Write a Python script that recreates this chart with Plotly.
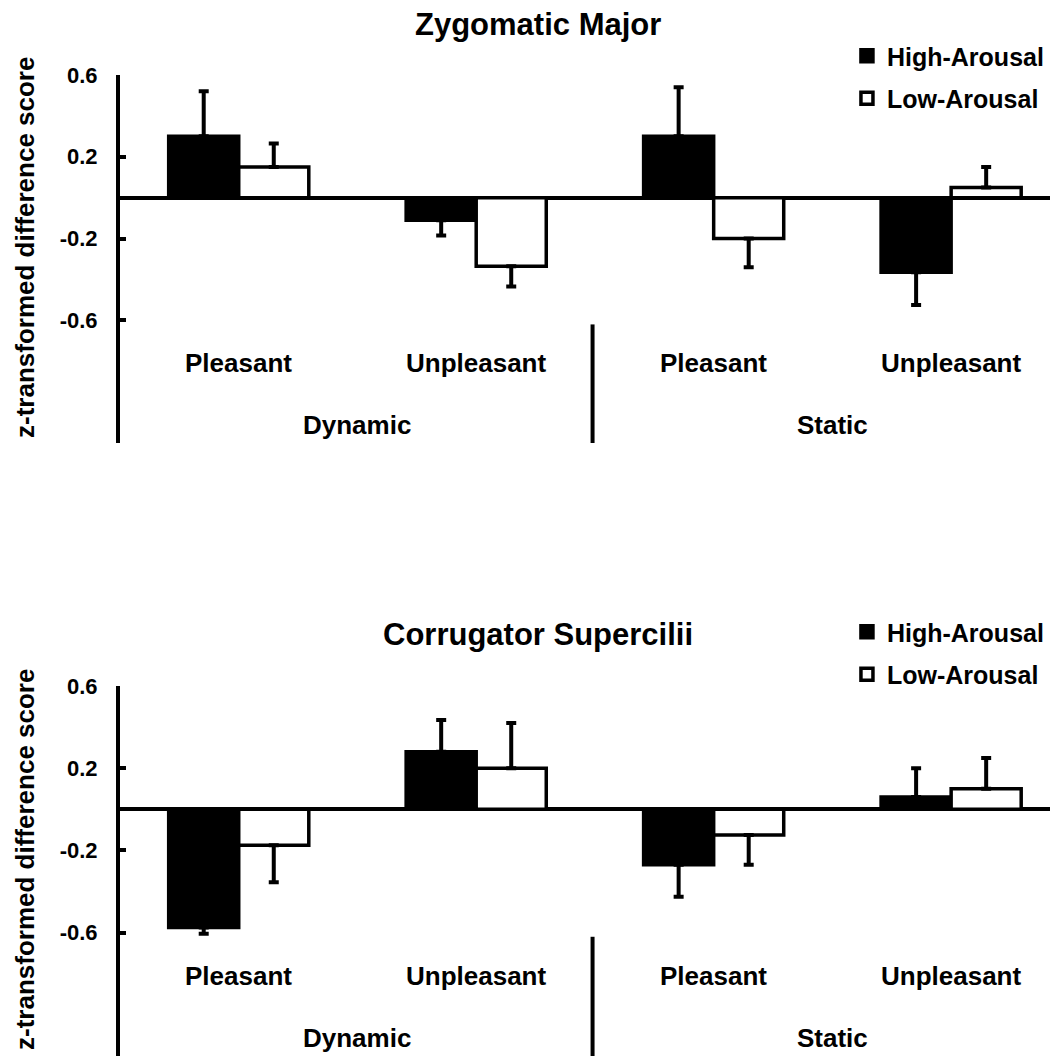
import plotly.graph_objects as go

# ---- data ----
conditions = ["Pleasant", "Unpleasant", "Pleasant", "Unpleasant"]
condition_x = [0, 1, 2, 3]
motion_groups = ["Dynamic", "Static"]
motion_x = [0.5, 2.5]
series_names = ["High-Arousal", "Low-Arousal"]
y_ticks = [0.6, 0.2, -0.2, -0.6]
y_tick_labels = ["0.6", "0.2", "-0.2", "-0.6"]
panel_titles = ["Zygomatic Major", "Corrugator Supercilii"]
y_title = "z-transformed difference score"

zyg_high = [0.30, -0.11, 0.30, -0.365]
zyg_high_err = [0.22, 0.075, 0.24, 0.16]
zyg_low = [0.15, -0.335, -0.20, 0.05]
zyg_low_err = [0.115, 0.10, 0.14, 0.10]

cor_high = [-0.575, 0.28, -0.27, 0.06]
cor_high_err = [0.03, 0.155, 0.155, 0.14]
cor_low = [-0.175, 0.20, -0.125, 0.10]
cor_low_err = [0.18, 0.22, 0.145, 0.15]

FONT = "Liberation Sans, Arial, sans-serif"
W, H = 1050, 1048   # page body adds an 8px offset
ML = 112


def one_sided(vals, errs):
    plus = [e if v > 0 else 0 for v, e in zip(vals, errs)]
    minus = [e if v < 0 else 0 for v, e in zip(vals, errs)]
    return dict(type="data", symmetric=False, array=plus, arrayminus=minus,
                color="black", thickness=4, width=5)


def f(size):
    return dict(family=FONT, size=size, color="black", weight="bold")


fig = go.Figure()

panels = [
    (zyg_high, zyg_high_err, zyg_low, zyg_low_err, "x", "y", "legend"),
    (cor_high, cor_high_err, cor_low, cor_low_err, "x2", "y2", "legend2"),
]
fills = ["black", "white"]
for (hv, he, lv, le, xa, ya, lg) in panels:
    for name, vals, errs, fill in [(series_names[0], hv, he, fills[0]),
                                   (series_names[1], lv, le, fills[1])]:
        fig.add_trace(go.Bar(
            x=condition_x, y=vals, name=name, xaxis=xa, yaxis=ya,
            legend=lg, legendgroup=name,
            marker=dict(color=fill, line=dict(color="black", width=3.5)),
            error_y=one_sided(vals, errs),
        ))

axis_y_common = dict(
    range=[-1.2, 0.6], showline=True, linewidth=4, linecolor="black",
    ticks="inside", ticklen=6, tickwidth=4, tickcolor="black",
    tickvals=y_ticks, ticktext=y_tick_labels,
    tickfont=f(22), ticklabelstandoff=14, automargin=False,
    showgrid=False, zeroline=True, zerolinewidth=4, zerolinecolor="black",
)
axis_x_common = dict(range=[-0.5, 3.45], showline=False, showgrid=False,
                     zeroline=False, showticklabels=False, ticks="",
                     automargin=False)

fig.update_layout(
    width=W, height=H,
    margin=dict(l=ML, r=0, t=0, b=0, pad=0),
    paper_bgcolor="white", plot_bgcolor="white",
    barmode="group", bargap=0.41, bargroupgap=0,
    font=dict(family=FONT, color="black", weight="bold"),
    xaxis=dict(domain=[0, 1], anchor="y", **axis_x_common),
    yaxis=dict(domain=[1 - 435 / H, 1 - 67 / H], anchor="x", **axis_y_common),
    xaxis2=dict(domain=[0, 1], anchor="y2", **axis_x_common),
    yaxis2=dict(domain=[0.0, 1 - 678 / H], anchor="x2", **axis_y_common),
    legend=dict(x=0.775, y=1 - 25 / H, xanchor="left", yanchor="top",
                bgcolor="rgba(0,0,0,0)", tracegroupgap=7, font=f(25)),
    legend2=dict(x=0.775, y=1 - 601 / H, xanchor="left", yanchor="top",
                 bgcolor="rgba(0,0,0,0)", tracegroupgap=7, font=f(25)),
    showlegend=True,
)

annotations = []
shapes = []
title_y = [1 - 16 / H, 1 - 626 / H]
ytitle_y = [1 - 240 / H, 1 - 852 / H]
for i, (xa, ya) in enumerate([("x", "y"), ("x2", "y2")]):
    annotations.append(dict(
        text=panel_titles[i], xref="paper", yref="paper",
        x=(530 - ML) / (W - ML), y=title_y[i], xanchor="center",
        yanchor="middle", showarrow=False, font=f(31)))
    annotations.append(dict(
        text=y_title, xref="paper", yref="paper",
        x=(17 - ML) / (W - ML), y=ytitle_y[i], xanchor="center",
        yanchor="middle", textangle=-90, showarrow=False, font=f(26)))
    for cx, label in zip(condition_x, conditions):
        annotations.append(dict(
            text=label, xref=xa, yref=ya, x=cx, y=-0.81,
            xanchor="center", yanchor="middle", showarrow=False, font=f(26)))
    for mx, label in zip(motion_x, motion_groups):
        annotations.append(dict(
            text=label, xref=xa, yref=ya, x=mx, y=-1.11,
            xanchor="center", yanchor="middle", showarrow=False, font=f(26)))
    shapes.append(dict(type="line", xref=xa, yref=ya, x0=1.49, x1=1.49,
                       y0=-0.62, y1=-1.2, line=dict(color="black", width=4)))

fig.update_layout(annotations=annotations, shapes=shapes)

fig.write_html("out.html")
